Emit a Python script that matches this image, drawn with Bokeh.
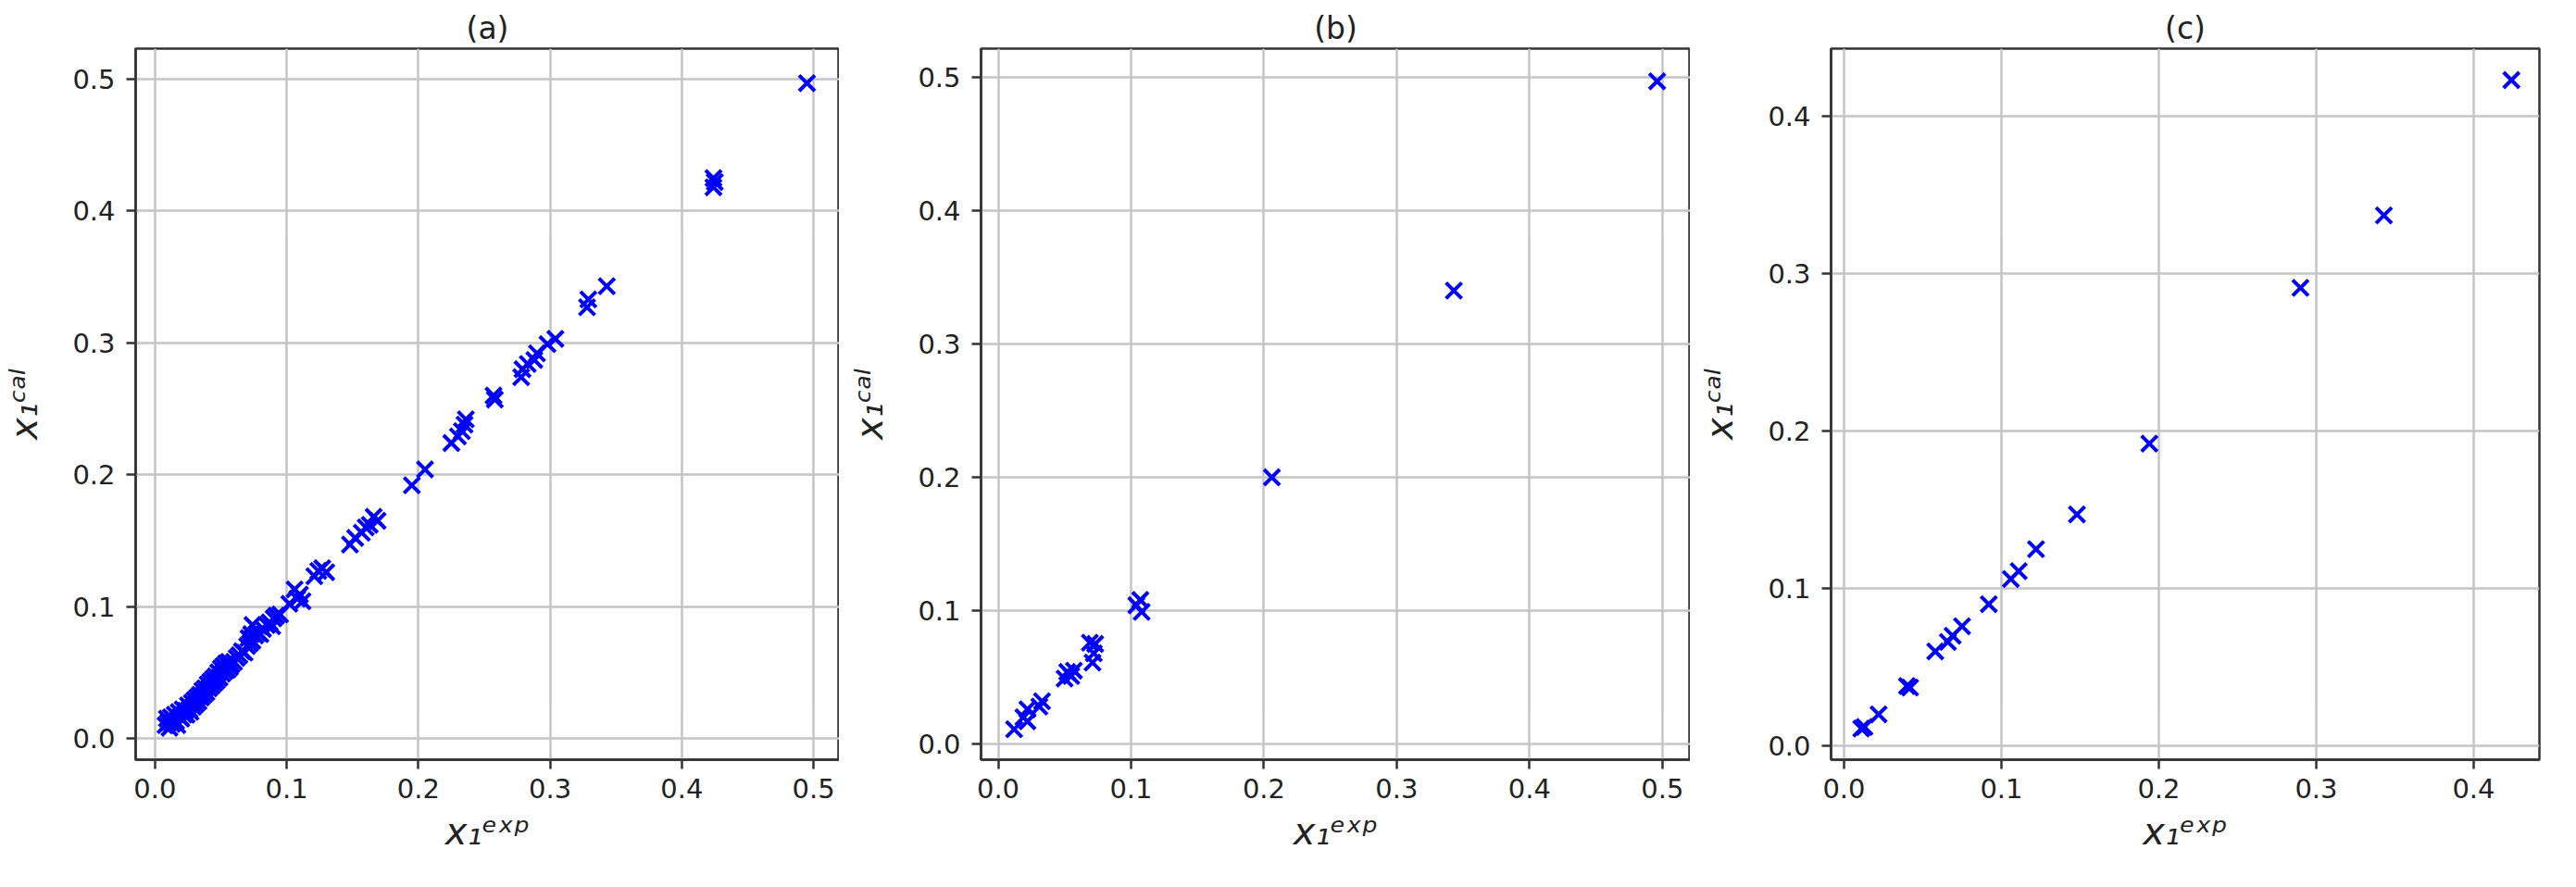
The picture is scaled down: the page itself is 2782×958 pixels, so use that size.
from bokeh.plotting import figure
from bokeh.models import Range1d, FixedTicker, PrintfTickFormatter
from bokeh.layouts import row
from bokeh.embed import file_html
from bokeh.resources import INLINE

# ---------------- data ----------------
a_exp = [
    0.008, 0.009, 0.010, 0.011, 0.012, 0.013, 0.014, 0.015, 0.016, 0.017,
    0.018, 0.019, 0.020, 0.021, 0.022, 0.023, 0.024, 0.025, 0.026, 0.027,
    0.028, 0.029, 0.030, 0.031, 0.032, 0.033, 0.034, 0.035, 0.036, 0.037,
    0.038, 0.039, 0.040, 0.041, 0.042, 0.043, 0.044, 0.045, 0.046, 0.047,
    0.048, 0.049, 0.050, 0.051, 0.052, 0.053, 0.054, 0.055, 0.056, 0.057,
    0.058, 0.060, 0.062, 0.064, 0.066, 0.068, 0.070, 0.071, 0.072, 0.073,
    0.074, 0.074, 0.076, 0.078, 0.080, 0.082, 0.085, 0.087, 0.089, 0.090,
    0.092, 0.095, 0.102, 0.106, 0.108, 0.110, 0.112, 0.121, 0.124, 0.127,
    0.130, 0.148, 0.152, 0.157, 0.160, 0.163, 0.166, 0.169, 0.195, 0.205,
    0.225, 0.230, 0.233, 0.235, 0.236, 0.257, 0.258, 0.278, 0.279, 0.283,
    0.288, 0.290, 0.298, 0.304, 0.328, 0.329, 0.343, 0.424, 0.424, 0.425,
    0.495,
]
a_cal = [
    0.010, 0.015, 0.012, 0.008, 0.016, 0.011, 0.014, 0.018, 0.013, 0.010,
    0.020, 0.016, 0.015, 0.022, 0.018, 0.021, 0.018, 0.025, 0.022, 0.020,
    0.027, 0.024, 0.029, 0.026, 0.031, 0.028, 0.033, 0.031, 0.036, 0.033,
    0.038, 0.035, 0.041, 0.038, 0.043, 0.040, 0.045, 0.042, 0.047, 0.044,
    0.050, 0.046, 0.053, 0.049, 0.055, 0.051, 0.057, 0.052, 0.058, 0.054,
    0.056, 0.058, 0.061, 0.063, 0.066, 0.065, 0.070, 0.076, 0.072, 0.079,
    0.074, 0.086, 0.078, 0.080, 0.079, 0.083, 0.086, 0.088, 0.085, 0.091,
    0.093, 0.094, 0.102, 0.113, 0.106, 0.109, 0.104, 0.123, 0.127, 0.129,
    0.126, 0.147, 0.152, 0.156, 0.160, 0.162, 0.168, 0.165, 0.192, 0.204,
    0.224, 0.229, 0.233, 0.238, 0.242, 0.260, 0.257, 0.274, 0.280, 0.284,
    0.287, 0.292, 0.299, 0.303, 0.327, 0.333, 0.343, 0.418, 0.425, 0.422,
    0.497,
]

b_exp = [0.012, 0.019, 0.022, 0.022, 0.031, 0.033, 0.050, 0.052, 0.055, 0.057,
         0.069, 0.071, 0.072, 0.073, 0.104, 0.107, 0.108, 0.206, 0.343, 0.496]
b_cal = [0.011, 0.020, 0.017, 0.026, 0.028, 0.032, 0.049, 0.054, 0.051, 0.055,
         0.076, 0.061, 0.068, 0.075, 0.104, 0.108, 0.099, 0.200, 0.340, 0.497]

c_exp = [0.011, 0.013, 0.022, 0.040, 0.042, 0.058, 0.066, 0.069, 0.075, 0.092,
         0.106, 0.111, 0.122, 0.148, 0.194, 0.290, 0.343, 0.424]
c_cal = [0.011, 0.012, 0.020, 0.038, 0.037, 0.060, 0.066, 0.070, 0.076, 0.090,
         0.106, 0.111, 0.125, 0.147, 0.192, 0.291, 0.337, 0.423]

titles = ["(a)", "(b)", "(c)"]
x_label = "x\u2081\u1d49\u02e3\u1d56"   # x_1^exp
y_label = "x\u2081\u1d9c\u1d43\u02e1"   # x_1^cal
ticks_ab = [0.0, 0.1, 0.2, 0.3, 0.4, 0.5]
ticks_c = [0.0, 0.1, 0.2, 0.3, 0.4]

# ---------------- style / layout ----------------
FONT = "DejaVu Sans"
TEXT = "#222222"
AXC = "#333333"
GRIDC = "#c4c4c4"
BLUE = "#0000ff"
FRAME_H = 768
B_TOP = 52
B_BOTTOM = 118


def panel(xs, ys, xr, yr, ticks, title, frame_w, b_left, b_right):
    fh = FRAME_H
    p = figure(width=b_left + frame_w + b_right, height=B_TOP + fh + B_BOTTOM,
               x_range=Range1d(*xr), y_range=Range1d(*yr),
               output_backend="svg", toolbar_location=None,
               min_border_left=b_left, min_border_right=b_right,
               min_border_top=B_TOP, min_border_bottom=B_BOTTOM,
               background_fill_color="white", border_fill_color="white",
               title=title)
    p.title.align = "center"
    p.title.text_font = FONT
    p.title.text_font_size = "33px"
    p.title.text_font_style = "normal"
    p.title.text_color = TEXT
    p.title.standoff = 6

    p.outline_line_color = AXC
    p.outline_line_width = 2.5
    p.outline_line_alpha = 1.0

    for ax, gr in ((p.xaxis, p.xgrid), (p.yaxis, p.ygrid)):
        t = FixedTicker(ticks=ticks, minor_ticks=[])
        ax.ticker = t
        gr.ticker = t
        ax.formatter = PrintfTickFormatter(format="%.1f")
        ax.major_label_text_font = FONT
        ax.major_label_text_font_size = "29px"
        ax.major_label_text_color = TEXT
        ax.axis_line_color = AXC
        ax.axis_line_width = 2.5
        ax.major_tick_line_color = AXC
        ax.major_tick_line_width = 2.5
        ax.major_tick_out = 10
        ax.major_tick_in = 0
        ax.minor_tick_line_color = None
        ax.axis_label_text_font = FONT
        ax.axis_label_text_font_size = "40px"
        ax.axis_label_text_font_style = "italic"
        ax.axis_label_text_color = TEXT
        gr.grid_line_color = GRIDC
        gr.grid_line_width = 2.5
    p.xaxis.major_label_standoff = 10
    p.yaxis.major_label_standoff = 12
    p.xaxis.axis_label = x_label
    p.yaxis.axis_label = y_label
    p.xaxis.axis_label_standoff = 10
    p.yaxis.axis_label_standoff = 26

    p.scatter(xs, ys, marker="x", size=24, line_color=BLUE, line_width=4)
    return p


pa = panel(a_exp, a_cal, (-0.0147, 0.5196), (-0.0162, 0.5232), ticks_ab,
           titles[0], 764, 142, 0)
pb = panel(b_exp, b_cal, (-0.0129, 0.5210), (-0.0118, 0.5215), ticks_ab,
           titles[1], 766, 153, 0)
pc = panel(c_exp, c_cal, (-0.0082, 0.4418), (-0.0088, 0.4430), ticks_c,
           titles[2], 765, 152, 24)

layout = row(pa, pb, pc)
open("out.html", "w").write(file_html(layout, INLINE))
